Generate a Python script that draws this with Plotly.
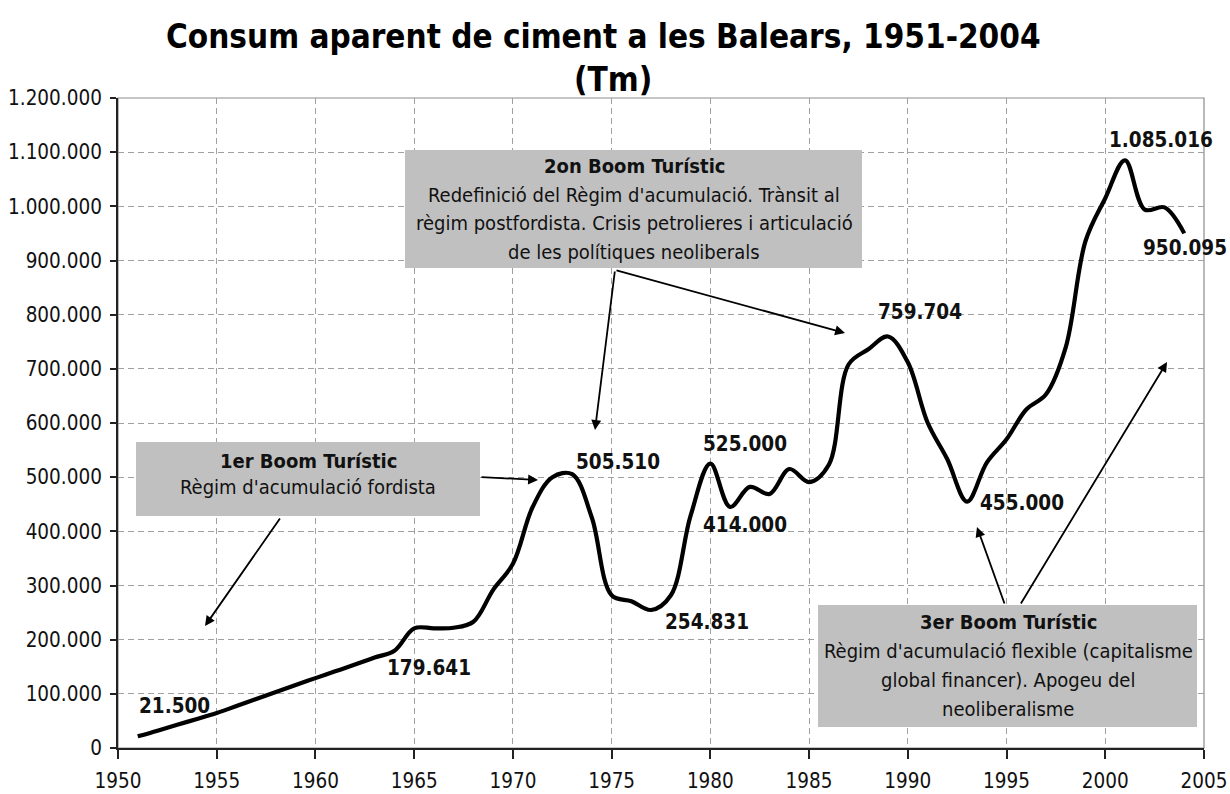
import plotly.graph_objects as go

# ---------------- data ----------------
years = list(range(1951, 2005))
consum = [21500, 32000, 43000, 53500, 64500, 77500, 90500, 103500, 116500, 129000,
          141500, 154000, 167000, 179641, 221000, 221000, 222000, 233000, 292000, 340000,
          445000, 500000, 505510, 425000, 282000, 271000, 254831, 282000, 429000, 525000,
          445000, 482000, 469000, 515000, 491000, 523000, 708000, 736000, 759704, 712000,
          601000, 533000, 455000, 527000, 570000, 625000, 653000, 740000, 936000, 1015000,
          1085016, 994000, 998000, 950095]

value_labels = ["21.500", "179.641", "505.510", "525.000", "414.000", "254.831",
                "759.704", "455.000", "1.085.016", "950.095"]

title_lines = ["Consum aparent de ciment a les Balears, 1951-2004", "(Tm)"]

box1_lines = ["<b>1er Boom Turístic</b>", "Règim d'acumulació fordista"]
box2_lines = ["<b>2on Boom Turístic</b>",
              "Redefinició del Règim d'acumulació. Trànsit al",
              "règim postfordista. Crisis petrolieres i articulació",
              "de les polítiques neoliberals"]
box3_lines = ["<b>3er Boom Turístic</b>",
              "Règim d'acumulació flexible (capitalisme",
              "global financer). Apogeu del",
              "neoliberalisme"]

# ---------------- layout helpers (pixel -> paper) ----------------
L, R, T, B = 118, 1204, 98, 748
def px(x):
    return (x - L) / (R - L)
def py(y):
    return (B - y) / (B - T)

FONT = "DejaVu Sans Condensed, DejaVu Sans, sans-serif"
TXT = "#111111"
BOXC = "#C0C0C0"

fig = go.Figure()
fig.add_trace(go.Scatter(
    x=years, y=consum, mode="lines",
    line=dict(color="black", width=4.2, shape="spline", smoothing=1),
    hoverinfo="x+y", showlegend=False))

annotations = []
shapes = []

# plot border (top / right)
shapes.append(dict(type="rect", xref="paper", yref="paper", x0=0, y0=0, x1=1, y1=1,
                   line=dict(color="#8c8c8c", width=1.2), layer="below"))

# title
annotations.append(dict(text="<b>%s</b>" % title_lines[0], xref="paper", yref="paper",
                        x=px(603), y=py(37), showarrow=False, xanchor="center", yanchor="middle",
                        font=dict(family=FONT, size=33, color="black")))
annotations.append(dict(text="<b>%s</b>" % title_lines[1], xref="paper", yref="paper",
                        x=px(613), y=py(79), showarrow=False, xanchor="center", yanchor="middle",
                        font=dict(family=FONT, size=33, color="black")))

# value labels (pixel centres)
label_pos = [(174, 706), (429, 668), (618, 462), (745, 444), (745, 525), (707, 622),
             (920, 312), (1022, 503), (1161, 140), (1185, 248)]
for txt, (lx, ly) in zip(value_labels, label_pos):
    annotations.append(dict(text="<b>%s</b>" % txt, xref="paper", yref="paper",
                            x=px(lx), y=py(ly), showarrow=False, xanchor="center", yanchor="middle",
                            font=dict(family=FONT, size=20.5, color=TXT)))

# boxes
boxes = [((136, 442, 480, 516), box1_lines, 308, [461, 487]),
         ((405, 150, 862, 268), box2_lines, 634, [166, 195, 223, 252]),
         ((818, 605, 1197, 727), box3_lines, 1008, [622, 651, 680, 709])]
for (x0, y0, x1, y1), lines, cx, ys in boxes:
    shapes.append(dict(type="rect", xref="paper", yref="paper",
                       x0=px(x0), x1=px(x1), y0=py(y1), y1=py(y0),
                       fillcolor=BOXC, line=dict(width=0), layer="above"))
    for t, yy in zip(lines, ys):
        annotations.append(dict(text=t, xref="paper", yref="paper", x=px(cx), y=py(yy),
                                showarrow=False, xanchor="center", yanchor="middle",
                                font=dict(family=FONT, size=20, color=TXT)))

# arrows: (tail, head) in pixels
arrows = [((281, 517), (205, 626)),
          ((480, 477), (538, 480)),
          ((615, 270), (595, 430)),
          ((615, 270), (845, 333)),
          ((1005, 605), (977, 527)),
          ((1020, 605), (1167, 362))]
for (tx, ty), (hx, hy) in arrows:
    annotations.append(dict(text="", xref="paper", yref="paper", x=px(hx), y=py(hy),
                            ax=tx - hx, ay=ty - hy, axref="pixel", ayref="pixel",
                            showarrow=True, arrowhead=2, arrowsize=1.1, arrowwidth=1.8,
                            arrowcolor="black", standoff=0, startstandoff=0))

grid_common = dict(showgrid=True, gridcolor="#a0a0a0", gridwidth=1, griddash="6px,4px",
                   showline=True, linecolor="#222222", linewidth=2,
                   ticks="outside", tickcolor="#222222", tickwidth=1.5,
                   zeroline=False, automargin=False,
                   tickfont=dict(family=FONT, size=20.5, color=TXT))

fig.update_layout(
    width=1230, height=794,
    margin=dict(l=L, r=1230 - R, t=T, b=794 - B, autoexpand=False),
    paper_bgcolor="white", plot_bgcolor="white",
    separators=",.",
    annotations=annotations, shapes=shapes,
    xaxis=dict(range=[1950, 2005], dtick=5, tick0=1950, ticklen=9,
               ticklabelstandoff=4, **grid_common),
    yaxis=dict(range=[0, 1200000], dtick=100000, tickformat=",d", ticklen=6,
               ticklabelstandoff=4, **grid_common),
    showlegend=False,
)

fig.write_html(
    "out.html",
    config={"displayModeBar": False},
    post_script=("document.documentElement.style.margin='0';"
                 "document.documentElement.style.overflow='hidden';"
                 "document.body.style.margin='0';document.body.style.padding='0';"
                 "document.body.style.overflow='hidden';"))
